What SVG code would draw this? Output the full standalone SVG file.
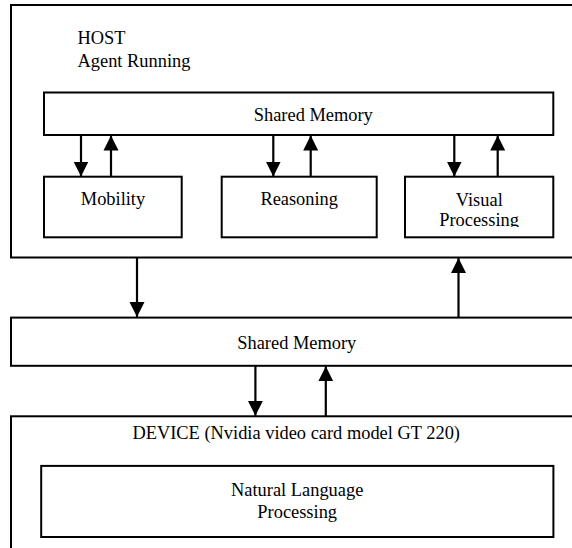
<svg xmlns="http://www.w3.org/2000/svg" width="572" height="548" viewBox="0 0 572 548">
  <style>
    .box { fill: #ffffff; stroke: #000000; stroke-width: 2; }
    .lbl { font-family: "Liberation Serif", "Times New Roman", "DejaVu Serif", serif; font-size: 18.4px; fill: #000000; }
    .mid { text-anchor: middle; }
    .wire { stroke: #000000; stroke-width: 2.2; fill: none; marker-end: url(#head); }
  </style>
  <defs>
    <marker id="head" markerUnits="userSpaceOnUse" markerWidth="16" markerHeight="16" viewBox="0 0 16 16" refX="15" refY="8" orient="auto">
      <path d="M0,0.5 L15,8 L0,15.5 Z" fill="#000000"/>
    </marker>
    <!-- the second label line is cut off by the box's text area -->
    <clipPath id="vpClip">
      <rect x="405" y="177" width="148" height="50"/>
    </clipPath>
  </defs>
  <rect x="0" y="0" width="572" height="548" fill="#ffffff"/>

  <!-- host machine -->
  <g id="host">
    <rect class="box" x="11" y="5" width="580" height="252.5"/>
    <text class="lbl" x="77.5" y="44.3">HOST</text>
    <text class="lbl" x="77.5" y="66.5">Agent Running</text>
  </g>

  <g id="host-shared-memory">
    <rect class="box" x="44" y="92.5" width="509.3" height="42.5"/>
    <text class="lbl mid" x="313.3" y="120.5">Shared Memory</text>
  </g>

  <g id="mobility">
    <rect class="box" x="44" y="176.7" width="137.7" height="60.6"/>
    <text class="lbl mid" x="113" y="205">Mobility</text>
  </g>

  <g id="reasoning">
    <rect class="box" x="221.7" y="176.7" width="155" height="60.6"/>
    <text class="lbl mid" x="299.2" y="205">Reasoning</text>
  </g>

  <g id="visual-processing">
    <rect class="box" x="405" y="176.7" width="148.3" height="60.6"/>
    <text class="lbl mid" x="479.3" y="205.5">Visual</text>
    <text class="lbl mid" x="479.1" y="225.8" clip-path="url(#vpClip)">Processing</text>
  </g>

  <!-- memory shared between host and device -->
  <g id="shared-memory">
    <rect class="box" x="11" y="317.6" width="580" height="48.2"/>
    <text class="lbl mid" x="296.8" y="348.5">Shared Memory</text>
  </g>

  <!-- GPU device -->
  <g id="device">
    <rect class="box" x="11" y="416.3" width="580" height="160"/>
    <text class="lbl mid" x="296.2" y="439.3">DEVICE (Nvidia video card model GT 220)</text>
  </g>

  <g id="nlp">
    <rect class="box" x="41.2" y="465.9" width="512.2" height="71.1"/>
    <text class="lbl mid" x="297.2" y="495.8">Natural Language</text>
    <text class="lbl mid" x="297.2" y="517.7">Processing</text>
  </g>

  <g id="connectors">
    <!-- host shared memory <-> modules -->
    <line class="wire" x1="81" y1="135" x2="81" y2="176.5"/>
    <line class="wire" x1="111" y1="176.7" x2="111" y2="135.5"/>
    <line class="wire" x1="273.3" y1="135" x2="273.3" y2="176.5"/>
    <line class="wire" x1="310.7" y1="176.7" x2="310.7" y2="135.5"/>
    <line class="wire" x1="454.3" y1="135" x2="454.3" y2="176.5"/>
    <line class="wire" x1="497.7" y1="176.7" x2="497.7" y2="135.5"/>
    <!-- host <-> shared memory -->
    <line class="wire" x1="137" y1="257.5" x2="137" y2="317"/>
    <line class="wire" x1="458.5" y1="317.6" x2="458.5" y2="258"/>
    <!-- shared memory <-> device -->
    <line class="wire" x1="255.4" y1="365.8" x2="255.4" y2="415.8"/>
    <line class="wire" x1="325.8" y1="416.3" x2="325.8" y2="366.3"/>
  </g>
</svg>
